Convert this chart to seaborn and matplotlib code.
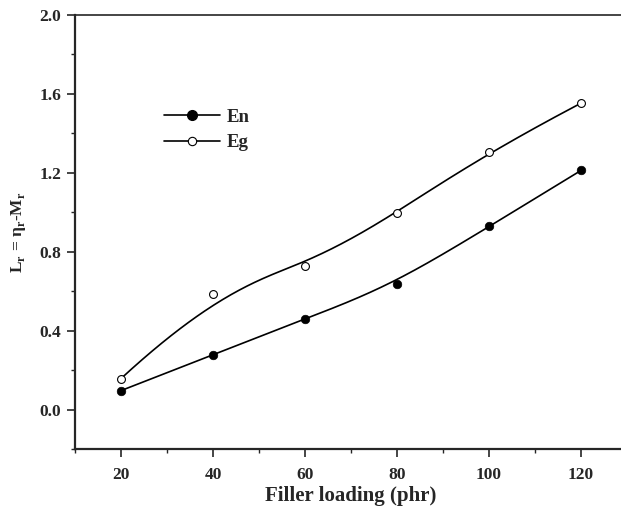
import numpy as np
import pandas as pd
import matplotlib
matplotlib.use("Agg")
import matplotlib.pyplot as plt
from matplotlib.lines import Line2D
from matplotlib.ticker import MultipleLocator
import seaborn as sns

# data
loading = [20, 40, 60, 80, 100, 120]
en_vals = [0.096, 0.278, 0.461, 0.636, 0.928, 1.212]
eg_vals = [0.157, 0.586, 0.726, 0.996, 1.308, 1.553]


def bspline(xs, ys, degree=3, n=300):
    """Clamped uniform B-spline, points used as control points (Origin style)."""
    pts = np.column_stack([xs, ys]).astype(float)
    m = len(pts)
    knots = np.concatenate([np.zeros(degree), np.arange(m - degree + 1), np.full(degree, m - degree)])
    t = np.linspace(0, m - degree, n)
    t[-1] -= 1e-9

    def basis(i, k, tt):
        if k == 0:
            return ((knots[i] <= tt) & (tt < knots[i + 1])).astype(float)
        out = np.zeros_like(tt)
        d1 = knots[i + k] - knots[i]
        d2 = knots[i + k + 1] - knots[i + 1]
        if d1 > 0:
            out += (tt - knots[i]) / d1 * basis(i, k - 1, tt)
        if d2 > 0:
            out += (knots[i + k + 1] - tt) / d2 * basis(i + 1, k - 1, tt)
        return out

    B = np.column_stack([basis(i, degree, t) for i in range(m)])
    curve = B @ pts
    return curve[:, 0], curve[:, 1]


sns.set_style("ticks")
plt.rcParams["font.family"] = ["Liberation Serif", "DejaVu Serif"]
plt.rcParams["mathtext.fontset"] = "custom"
plt.rcParams["mathtext.rm"] = "Liberation Serif:bold"

fig = plt.figure(figsize=(6.21, 5.18), dpi=100)
ax = fig.add_axes([75 / 621, 1 - 449 / 518, 552 / 621, 434 / 518])

curves = []
for name, vals in [("En", en_vals), ("Eg", eg_vals)]:
    cx, cy = bspline(loading, vals)
    curves.append(pd.DataFrame({"x": cx, "y": cy, "series": name}))
curve_df = pd.concat(curves, ignore_index=True)
pts_df = pd.DataFrame({
    "x": loading * 2,
    "y": en_vals + eg_vals,
    "series": ["En"] * 6 + ["Eg"] * 6,
})

sns.lineplot(data=curve_df, x="x", y="y", units="series", estimator=None,
             color="black", lw=1.2, sort=False, ax=ax, legend=False)
sns.scatterplot(data=pts_df[pts_df.series == "En"], x="x", y="y", color="black",
                edgecolor="black", s=38, zorder=3, ax=ax, legend=False)
sns.scatterplot(data=pts_df[pts_df.series == "Eg"], x="x", y="y", color="white",
                edgecolor="black", linewidth=0.8, s=32, zorder=3, ax=ax, legend=False)

ax.set_xlim(10, 130)
ax.set_ylim(-0.2, 2.0)
ax.xaxis.set_major_locator(MultipleLocator(20))
ax.xaxis.set_minor_locator(MultipleLocator(10))
ax.yaxis.set_major_locator(MultipleLocator(0.4))
ax.yaxis.set_minor_locator(MultipleLocator(0.2))
ax.set_xticks([20, 40, 60, 80, 100, 120])
ax.set_yticklabels([f"{v:.1f}" for v in ax.get_yticks()])

ax.tick_params(which="major", direction="out", length=6, width=1.2, labelsize=12.5)
ax.tick_params(axis="x", which="major", pad=7)
ax.tick_params(axis="y", which="major", pad=4)
ax.tick_params(which="minor", direction="out", length=3, width=1.0)
for lab in ax.get_xticklabels() + ax.get_yticklabels():
    lab.set_fontweight("bold")

for side in ["left", "bottom"]:
    ax.spines[side].set_linewidth(1.6)
ax.spines["top"].set_linewidth(1.2)
ax.spines["right"].set_visible(False)

ax.set_xlabel("Filler loading (phr)", fontsize=15, fontweight="bold", labelpad=2)
ax.set_ylabel(r"L$_\mathrm{r}$ = η$_\mathrm{r}$-M$_\mathrm{r}$", fontsize=12.5,
              fontweight="bold", labelpad=8)

handles = [
    Line2D([], [], color="black", lw=1.2, marker="o", ms=7, mfc="black", mec="black"),
    Line2D([], [], color="black", lw=1.2, marker="o", ms=6, mfc="white", mec="black", mew=0.8),
]
leg = ax.legend(handles, ["En", "Eg"], loc="upper left", bbox_to_anchor=(0.130, 0.823),
                frameon=False, handlelength=3.0, handletextpad=0.35, labelspacing=0.45,
                prop={"family": "Liberation Serif", "weight": "bold", "size": 13.5})

fig.savefig("out.png", dpi=100)
